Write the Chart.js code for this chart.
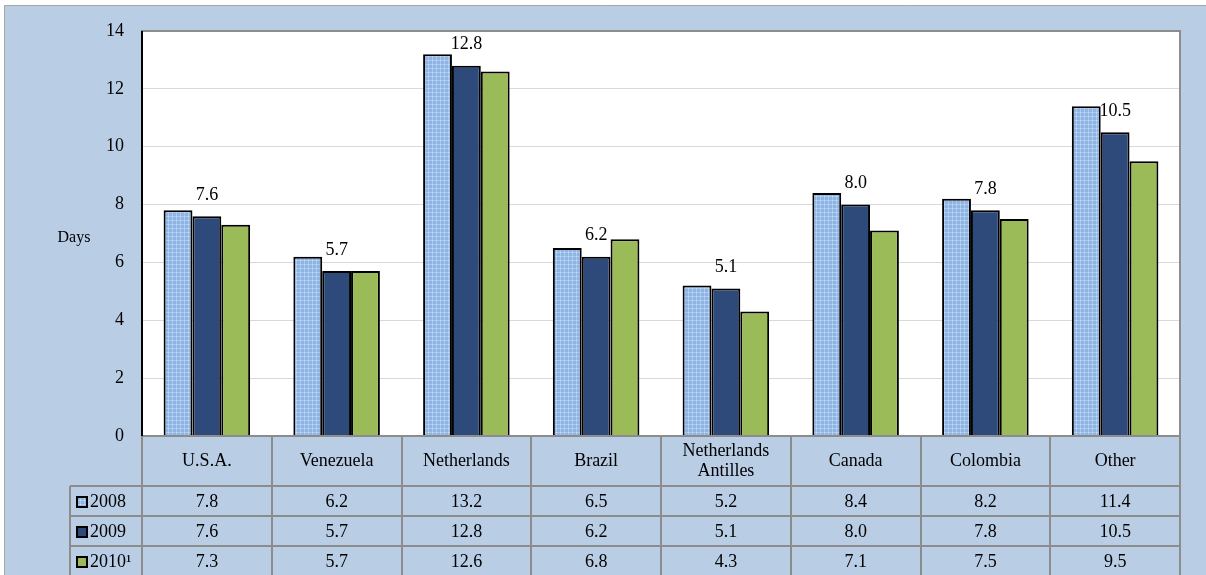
<!DOCTYPE html>
<html>
<head>
<meta charset="utf-8">
<script src="https://cdn.jsdelivr.net/npm/chart.js@4.4.0/dist/chart.umd.min.js"></script>
<style>
  html, body { margin: 0; padding: 0; background: #fff; }
</style>
</head>
<body>
<canvas id="myChart" width="1206" height="575"></canvas>
<script>
const categories = ['U.S.A.', 'Venezuela', 'Netherlands', 'Brazil', ['Netherlands', 'Antilles'], 'Canada', 'Colombia', 'Other'];
const years = ['2008', '2009', '2010¹'];
const days2008 = [7.8, 6.2, 13.2, 6.5, 5.2, 8.4, 8.2, 11.4];
const days2009 = [7.6, 5.7, 12.8, 6.2, 5.1, 8.0, 7.8, 10.5];
const days2010 = [7.3, 5.7, 12.6, 6.8, 4.3, 7.1, 7.5, 9.5];
const yMin = 0;
const yMax = 14;
const yStep = 2;
const labelledSeries = 1; // values printed above the 2009 bars

const ctx = document.getElementById('myChart');
const FONT = '"Liberation Serif", "Times New Roman", serif';
const PANEL = '#b9cde5';
const LINE = '#8c8c8c';

// light blue dotted fill for 2008
function makePattern() {
  const c = document.createElement('canvas');
  c.width = 4;
  c.height = 4;
  const g = c.getContext('2d');
  g.fillStyle = '#8eb4e3';
  g.fillRect(0, 0, 4, 4);
  g.fillStyle = '#abc8ee';
  g.fillRect(0, 0, 4, 1);
  g.fillRect(0, 0, 1, 4);
  g.fillStyle = '#c6dbf4';
  g.fillRect(0, 0, 1, 1);
  return g.createPattern(c, 'repeat');
}
const pattern2008 = makePattern();
const colors = [pattern2008, '#2e4a7b', '#9bbb59'];
const series = [days2008, days2009, days2010];

const background = {
  id: 'background',
  beforeDraw(chart) {
    const c = chart.ctx;
    const a = chart.chartArea;
    c.save();
    c.fillStyle = '#fff';
    c.fillRect(0, 0, chart.width, chart.height);
    c.fillStyle = PANEL;
    c.fillRect(4, 5, chart.width - 4, chart.height - 5);
    c.strokeStyle = '#a6a6a6';
    c.lineWidth = 1;
    c.beginPath();
    c.moveTo(4.5, chart.height);
    c.lineTo(4.5, 5.5);
    c.lineTo(chart.width, 5.5);
    c.stroke();
    c.fillStyle = '#fff';
    c.fillRect(a.left, a.top, a.right - a.left, a.bottom - a.top);
    c.restore();
  },
};

const tableAndLabels = {
  id: 'tableAndLabels',
  afterDatasetsDraw(chart) {
    const c = chart.ctx;
    const a = chart.chartArea;
    const x = chart.scales.x;
    const colW = x.width / categories.length;
    c.save();

    // value labels over the 2009 bars
    c.fillStyle = '#000';
    c.font = '18px ' + FONT;
    c.textAlign = 'center';
    c.textBaseline = 'middle';
    chart.getDatasetMeta(labelledSeries).data.forEach((bar, i) => {
      c.fillText(series[labelledSeries][i].toFixed(1), bar.x, bar.y - 21);
    });

    // plot area border
    c.strokeStyle = LINE;
    c.lineWidth = 2;
    c.strokeRect(a.left, a.top, a.right - a.left, a.bottom - a.top);
    c.strokeStyle = '#000';
    c.beginPath();
    c.moveTo(a.left, a.top);
    c.lineTo(a.left, a.bottom);
    c.stroke();

    // "Days"
    c.font = '16px ' + FONT;
    c.fillText('Days', 74, (a.top + a.bottom) / 2 + 4);

    // data table
    const headTop = a.bottom;
    const headBottom = headTop + 50;
    const rowH = 30;
    const tableLeft = 70;
    const bottom = chart.height + 2;
    c.strokeStyle = LINE;
    c.lineWidth = 2;
    c.beginPath();
    for (let i = 0; i <= categories.length; i++) {
      const bx = Math.round(a.left + i * colW);
      c.moveTo(bx, headTop);
      c.lineTo(bx, bottom);
    }
    c.moveTo(tableLeft, headBottom);
    c.lineTo(tableLeft, bottom);
    for (let r = 0; r <= years.length; r++) {
      const y = headBottom + r * rowH;
      c.moveTo(tableLeft, y);
      c.lineTo(a.right, y);
    }
    c.stroke();

    c.fillStyle = '#000';
    c.font = '18px ' + FONT;
    c.textAlign = 'center';
    categories.forEach((cat, i) => {
      const cx = x.getPixelForValue(i);
      const lines = Array.isArray(cat) ? cat : [cat];
      const mid = (headTop + headBottom) / 2;
      lines.forEach((t, k) => {
        c.fillText(t, cx, mid + (k - (lines.length - 1) / 2) * 20);
      });
    });

    years.forEach((yr, r) => {
      const cy = headBottom + r * rowH + rowH / 2 + 1;
      // legend key
      c.fillStyle = colors[r];
      c.fillRect(76, cy - 6, 12, 12);
      c.strokeStyle = '#000';
      c.lineWidth = 2;
      c.strokeRect(77, cy - 5, 10, 10);
      c.fillStyle = '#000';
      c.textAlign = 'left';
      c.fillText(yr, 90, cy);
      c.textAlign = 'center';
      series[r].forEach((v, i) => {
        c.fillText(v.toFixed(1), x.getPixelForValue(i), cy);
      });
    });
    c.restore();
  },
};

new Chart(ctx, {
  type: 'bar',
  data: {
    labels: categories,
    datasets: years.map((yr, r) => ({
      label: yr,
      data: series[r],
      backgroundColor: colors[r],
      borderColor: '#000',
      borderWidth: 2,
      categoryPercentage: 0.667,
      barPercentage: 1,
    })),
  },
  options: {
    responsive: false,
    animation: false,
    layout: {
      padding: { left: 0, top: 31, right: 26, bottom: 139 },
    },
    plugins: {
      legend: { display: false },
      tooltip: { enabled: false },
    },
    scales: {
      x: { display: false },
      y: {
        min: yMin,
        max: yMax,
        ticks: {
          stepSize: yStep,
          padding: 18,
          color: '#000',
          font: { family: FONT, size: 18 },
        },
        grid: { color: '#d9d9d9', drawTicks: false },
        border: { display: false },
        afterFit(scale) {
          scale.width = 142;
        },
      },
    },
  },
  plugins: [background, tableAndLabels],
});
</script>
</body>
</html>
